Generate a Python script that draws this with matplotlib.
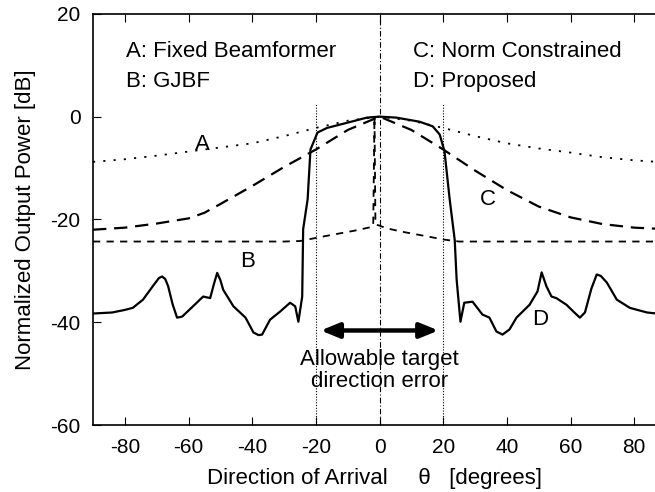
import numpy as np
import matplotlib
matplotlib.use("Agg")
import matplotlib.pyplot as plt

plt.rcParams['font.family'] = ['Liberation Sans', 'DejaVu Sans']
plt.rcParams['axes.unicode_minus'] = False

# curve A: fixed beamformer
a_x = [-90, -80, -70, -60, -50, -40, -30, -20, -10, 0, 10, 20, 30, 40, 50, 60, 70, 80, 87]
a_y = [-8.8, -8.3, -7.6, -6.8, -6.0, -5.2, -3.8, -2.2, -0.8, 0, -0.8, -2.2, -3.8, -5.2, -6.2, -7.0, -7.9, -8.5, -8.8]

# curve B: GJBF
b_x = [-90, -60, -30, -25, -20, -15, -8, -2, -1.6, -1.3, 0, 2, 8, 15, 20, 25, 40, 60, 87]
b_y = [-24.3, -24.3, -24.3, -24.2, -23.6, -23.0, -22.2, -21.4, 0, -21.0, -21.2, -21.7, -22.5, -23.3, -23.9, -24.3, -24.3, -24.3, -24.3]

# curve C: norm constrained
c_x = [-90, -80, -70, -60, -55, -50, -40, -30, -20, -10, 0, 10, 20, 30, 40, 50, 60, 70, 80, 87]
c_y = [-22.0, -21.6, -20.8, -19.8, -18.7, -17.0, -13.5, -9.8, -6.4, -2.6, 0, -2.6, -6.4, -10.5, -14.3, -17.5, -19.6, -20.9, -21.6, -21.8]

# curve D: proposed
d_x = [-90, -84, -80, -77.5, -74.3, -71, -69.3, -68.3, -67.3, -66.4, -65, -63.6, -62, -58.6, -55.4, -53.2, -52, -51, -50, -49.1, -45.9,
       -42.1, -39.6, -38, -36.9, -34.4, -31.2, -28.1, -26.5, -25.5, -24.3, -24, -22.6, -21.7, -19.5, -16.5,
       -10.2, -4, 0, 5.3, 12.6, 16.7, 18.9, 20.4, 22, 23.6, 24.2, 25.4, 26.6, 29.2, 32.3, 34.5, 36.7,
       38.6, 40.8, 43, 47.1, 49.6, 50.9, 52.4, 54, 55.5, 58.7, 61, 62.9, 64.5, 66.5, 68.2, 69.5, 71.4, 74.5, 78.6, 84, 87]
d_y = [-38.3, -38.1, -37.6, -37.2, -35.6, -32.8, -31.4, -31.1, -31.6, -33.0, -36.5, -39.1, -38.9, -36.9, -35.0, -35.3, -32.5, -30.4, -31.8, -33.7, -36.9,
       -39.1, -42.0, -42.5, -42.4, -39.5, -37.9, -36.2, -36.9, -39.9, -35.0, -21.9, -16.1, -6.4, -3.1, -2.2,
       -1.2, -0.2, 0, -0.2, -1.0, -1.9, -3.5, -6.8, -16.0, -24.0, -31.7, -39.9, -36.2, -36.0, -38.5, -39.1, -41.8,
       -42.4, -41.4, -39.1, -36.6, -34.0, -30.3, -33.0, -35.0, -35.3, -36.6, -38.0, -39.1, -38.1, -33.5, -30.7, -31.0, -32.3, -35.6, -37.2, -38.1, -38.3]

x_ticks = [-80, -60, -40, -20, 0, 20, 40, 60, 80]
y_ticks = [-60, -40, -20, 0, 20]

fig = plt.figure(figsize=(6.55, 4.92), dpi=100)
ax = fig.add_axes([0.142, 0.136, 0.858, 0.836])

ax.plot(a_x, a_y, color='black', lw=1.3, linestyle=(0, (1.2, 4.5)))
ax.plot(b_x, b_y, color='black', lw=1.3, linestyle=(0, (4, 3.5)))
ax.plot(c_x, c_y, color='black', lw=1.6, linestyle=(0, (6, 3.5)))
ax.plot(d_x, d_y, color='black', lw=1.6, solid_joinstyle='round')

# reference lines
ax.axvline(0, color='black', lw=0.8, linestyle=(0, (5, 2, 1, 2)))
ax.plot([-20, -20], [-60, 2.7], color='black', lw=0.8, linestyle=(0, (1, 1.5)))
ax.plot([20, 20], [-60, 2.7], color='black', lw=0.8, linestyle=(0, (1, 1.5)))

ax.annotate('', xy=(-18.5, -41.6), xytext=(18.5, -41.6),
            arrowprops=dict(arrowstyle='<|-|>,head_length=1.1,head_width=0.45', lw=3.2, color='black',
                            shrinkA=0, shrinkB=0))
ax.text(0, -49.4, 'Allowable target\ndirection error', ha='center', va='center', fontsize=16, linespacing=1.1)

ax.text(-79.5, 12.6, 'A: Fixed Beamformer', ha='left', va='center', fontsize=16)
ax.text(-79.5, 6.8, 'B: GJBF', ha='left', va='center', fontsize=16)
ax.text(10.4, 12.6, 'C: Norm Constrained', ha='left', va='center', fontsize=16)
ax.text(10.4, 6.8, 'D: Proposed', ha='left', va='center', fontsize=16)

ax.text(-55.7, -5.5, 'A', ha='center', va='center', fontsize=16)
ax.text(-41.5, -28.2, 'B', ha='center', va='center', fontsize=16)
ax.text(34, -16.2, 'C', ha='center', va='center', fontsize=16)
ax.text(50.3, -39.5, 'D', ha='center', va='center', fontsize=16)

ax.set_xlim(-90, 86.5)
ax.set_ylim(-60, 20)
ax.set_xticks(x_ticks)
ax.set_yticks(y_ticks)
ax.tick_params(direction='in', top=True, right=False, length=6, labelsize=15, pad=9)
ax.spines['right'].set_visible(False)
for s in ax.spines.values():
    s.set_linewidth(1.2)

ax.set_ylabel('Normalized Output Power [dB]', fontsize=16, labelpad=10)
ax.set_xlabel('Direction of Arrival     \u03b8   [degrees]', fontsize=16, labelpad=8)

fig.savefig('out.png', dpi=100)
